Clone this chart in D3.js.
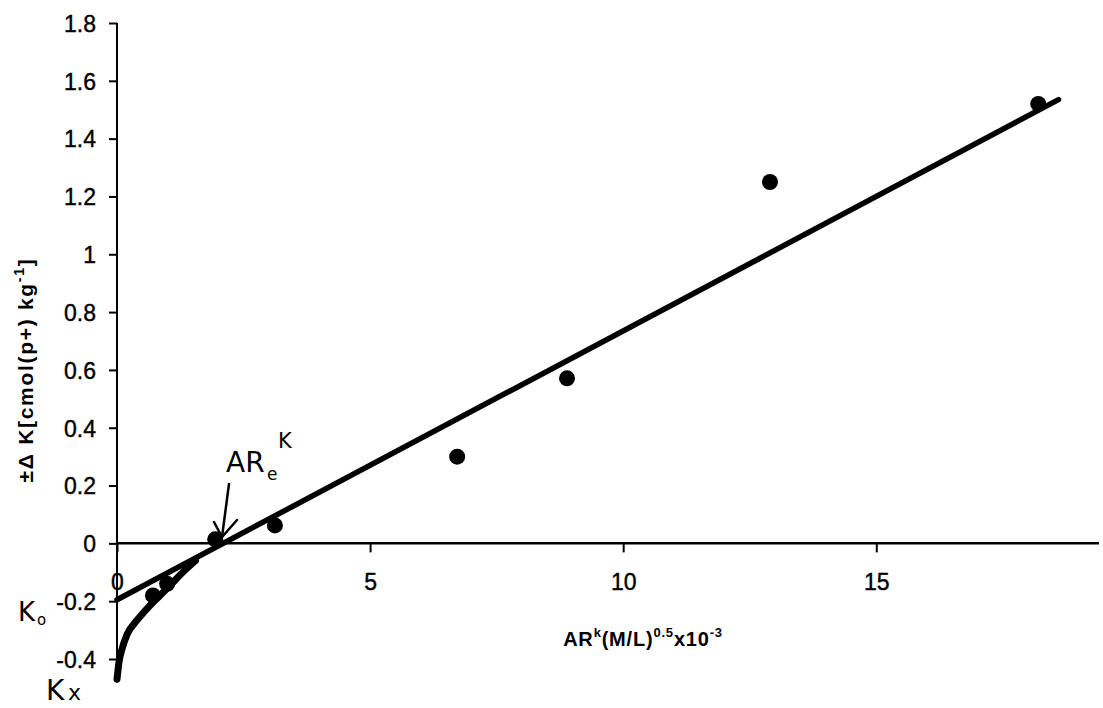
<!DOCTYPE html>
<html><head><meta charset="utf-8">
<script src="https://cdn.jsdelivr.net/npm/d3@7/dist/d3.min.js"></script>
<style>body{margin:0;background:#fff}svg{display:block}text{font-family:"Liberation Sans",Arial,sans-serif;fill:#000}</style>
</head><body><svg id="c" width="1103" height="708"></svg>
<script>
const pointX = [0.71, 0.99, 1.94, 3.12, 6.72, 8.89, 12.9, 18.2];
const pointY = [-0.18, -0.14, 0.014, 0.062, 0.30, 0.571, 1.25, 1.52];
const fitX = [0, 18.6];
const fitY = [-0.195, 1.535];
const curveX = [0, 0.04, 0.1, 0.2, 0.4, 0.65, 0.85, 1.05, 1.3, 1.55];
const curveY = [-0.47, -0.41, -0.365, -0.315, -0.265, -0.215, -0.18, -0.145, -0.1, -0.06];
const xTicks = [0, 5, 10, 15];
const yTicks = [-0.4, -0.2, 0, 0.2, 0.4, 0.6, 0.8, 1, 1.2, 1.4, 1.6, 1.8];

const svg = d3.select("#c");
const x = d3.scaleLinear().domain([0, 19.4]).range([117, 1099]);
const y = d3.scaleLinear().domain([-0.4, 1.8]).range([659, 23]);
const fmt = d => String(d);

// y axis
const yAx = svg.append("g").attr("transform", `translate(${x(0)},0)`)
  .call(d3.axisLeft(y).tickValues(yTicks).tickSize(8).tickPadding(13).tickFormat(fmt));
yAx.select(".domain").remove();
yAx.selectAll("line").attr("stroke", "#000").attr("stroke-width", 2);
yAx.selectAll("text").style("font-size", "23px").attr("dy", "0.36em")
  .attr("stroke", "#000").attr("stroke-width", 0.4);
svg.append("line").attr("x1", x(0)).attr("x2", x(0)).attr("y1", y(1.8)).attr("y2", y(-0.48))
  .attr("stroke", "#000").attr("stroke-width", 2);

// x axis at y=0
const xAx = svg.append("g").attr("transform", `translate(0,${y(0)})`)
  .call(d3.axisBottom(x).tickValues(xTicks).tickSize(9).tickPadding(0).tickFormat(fmt));
xAx.select(".domain").remove();
xAx.selectAll("line").attr("stroke", "#000").attr("stroke-width", 2);
xAx.selectAll("text").style("font-size", "23px").attr("y", 0).attr("dy", 0)
  .attr("stroke", "#000").attr("stroke-width", 0.4)
  .attr("transform", `translate(0,${y(-0.135) - y(0) + 8})`);
svg.append("line").attr("x1", x(0)).attr("x2", x(19.4)).attr("y1", y(0)).attr("y2", y(0))
  .attr("stroke", "#000").attr("stroke-width", 2.5);

// fitted line
svg.append("line").attr("x1", x(fitX[0])).attr("y1", y(fitY[0])).attr("x2", x(fitX[1])).attr("y2", y(fitY[1]))
  .attr("stroke", "#000").attr("stroke-width", 5.5).attr("stroke-linecap", "round");

// curve
svg.append("path").datum(curveX.map((d, i) => [d, curveY[i]]))
  .attr("d", d3.line().x(d => x(d[0])).y(d => y(d[1])).curve(d3.curveMonotoneX))
  .attr("fill", "none").attr("stroke", "#000").attr("stroke-width", 7).attr("stroke-linecap", "round");

// points
svg.selectAll("circle.pt").data(pointX.map((d, i) => [d, pointY[i]])).enter().append("circle")
  .attr("class", "pt").attr("cx", d => x(d[0])).attr("cy", d => y(d[1])).attr("r", 8).attr("fill", "#000");

// axis titles
const xt = svg.append("text").attr("x", 643).attr("y", 646).attr("text-anchor", "middle")
  .style("font-size", "20px").style("font-weight", "bold").style("letter-spacing", "0.8px");
xt.append("tspan").text("AR");
xt.append("tspan").attr("dy", -9).style("font-size", "13px").text("k");
xt.append("tspan").attr("dy", 9).text("(M/L)");
xt.append("tspan").attr("dy", -9).style("font-size", "13px").text("0.5");
xt.append("tspan").attr("dy", 9).text("x10");
xt.append("tspan").attr("dy", -9).style("font-size", "13px").text("-3");

const yt = svg.append("text").attr("transform", "translate(33,370) rotate(-90)").attr("text-anchor", "middle")
  .style("font-size", "21px").style("font-weight", "bold").style("letter-spacing", "1.7px");
yt.append("tspan").text("±Δ K[cmol(p+) kg");
yt.append("tspan").attr("dy", -9).style("font-size", "14px").text("-1");
yt.append("tspan").attr("dy", 9).text("]");

// handwritten annotations
const hf = "DejaVu Sans";
svg.append("text").attr("x", 18).attr("y", 621).style("font-size", "26px").style("font-family", hf).text("K");
svg.append("text").attr("x", 37).attr("y", 625).style("font-size", "15px").style("font-family", hf).text("o");
svg.append("text").attr("x", 46).attr("y", 700).style("font-size", "28px").style("font-family", hf).text("K");
svg.append("text").attr("x", 68).attr("y", 700).style("font-size", "22px").style("font-family", hf).text("x");
svg.append("text").attr("x", 226).attr("y", 472).style("font-size", "28px").style("font-family", hf).text("AR");
svg.append("text").attr("x", 267).attr("y", 480).style("font-size", "17px").style("font-family", hf).text("e");
svg.append("text").attr("x", 278).attr("y", 448).style("font-size", "21px").style("font-family", hf).text("K");
const arr = svg.append("g").attr("stroke", "#000").attr("stroke-width", 2.5).attr("fill", "none").attr("stroke-linecap", "round");
arr.append("line").attr("x1", 229).attr("y1", 484).attr("x2", 222).attr("y2", 537);
arr.append("polyline").attr("points", "214,522 222,537 237,520");
</script></body></html>
